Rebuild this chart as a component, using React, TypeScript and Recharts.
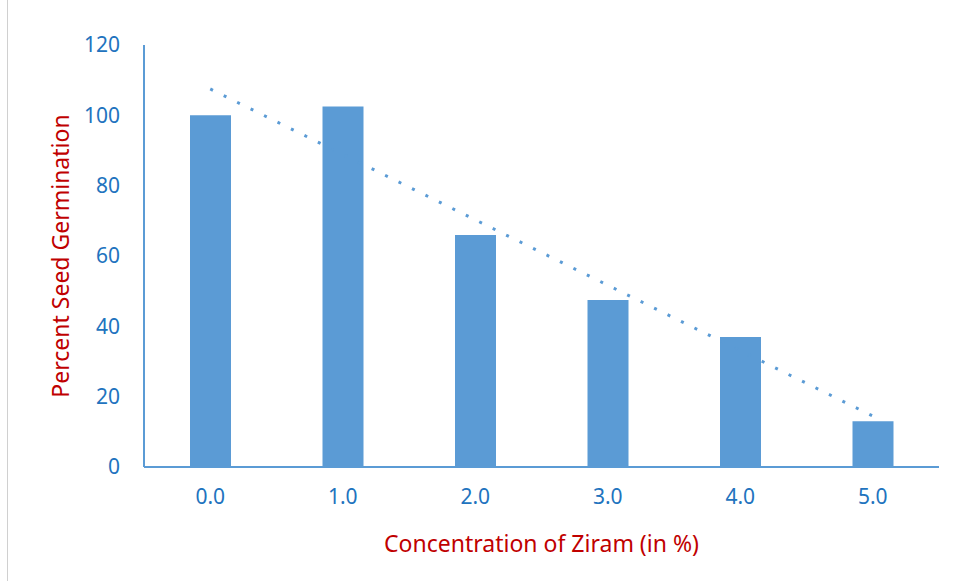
import { BarChart, Bar, XAxis, YAxis, ReferenceLine, Label } from "recharts";

const concentrations = ["0.0", "1.0", "2.0", "3.0", "4.0", "5.0"];
const germination = [100, 102.5, 66, 47.5, 37, 13];
const yTicks = [0, 20, 40, 60, 80, 100, 120];
// linear trendline ends
const trendStart = 107.5;
const trendEnd = 14.5;

const data = concentrations.map((c, i) => ({ conc: c, germ: germination[i] }));

const BLUE = "#5B9BD5";
const TICK = "#2173BE";
const RED = "#C00000";
const FONT = "'Noto Sans', 'Open Sans', sans-serif";

export default function App() {
  return (
    <div style={{ position: "absolute", left: 0, top: 0, width: 954, height: 581, background: "#fff", fontFamily: FONT }}>
      <div style={{ position: "absolute", left: 7, top: 0, width: 1, height: 581, background: "#d0d0d0" }} />
      <BarChart
        width={954}
        height={581}
        data={data}
        margin={{ top: 45, right: 15, bottom: 0, left: 0 }}
        barCategoryGap={46}
      >
        <XAxis
          dataKey="conc"
          height={114}
          axisLine={{ stroke: BLUE, strokeWidth: 2 }}
          tickLine={false}
          tickSize={0}
          tickMargin={22}
          tick={{ fill: TICK, fontSize: 21, fontFamily: FONT }}
        >
          <Label
            value="Concentration of Ziram (in %)"
            position="center"
            dy={20}
            fill={RED}
            fontSize={23}
            fontFamily={FONT}
          />
        </XAxis>
        <YAxis
          width={144}
          domain={[0, 120]}
          ticks={yTicks}
          interval={0}
          axisLine={{ stroke: BLUE, strokeWidth: 2 }}
          tickLine={false}
          tickSize={0}
          tickMargin={24}
          tick={{ fill: TICK, fontSize: 21, fontFamily: FONT }}
        >
          <Label
            value="Percent Seed Germination"
            position="center"
            angle={-90}
            dx={-11}
            fill={RED}
            fontSize={23}
            fontFamily={FONT}
          />
        </YAxis>
        <Bar dataKey="germ" fill={BLUE} isAnimationActive={false} />
        <ReferenceLine
          segment={[
            { x: concentrations[0], y: trendStart },
            { x: concentrations[concentrations.length - 1], y: trendEnd },
          ]}
          stroke={BLUE}
          strokeWidth={3}
          strokeDasharray="3 12"
          ifOverflow="visible"
        />
      </BarChart>
    </div>
  );
}
